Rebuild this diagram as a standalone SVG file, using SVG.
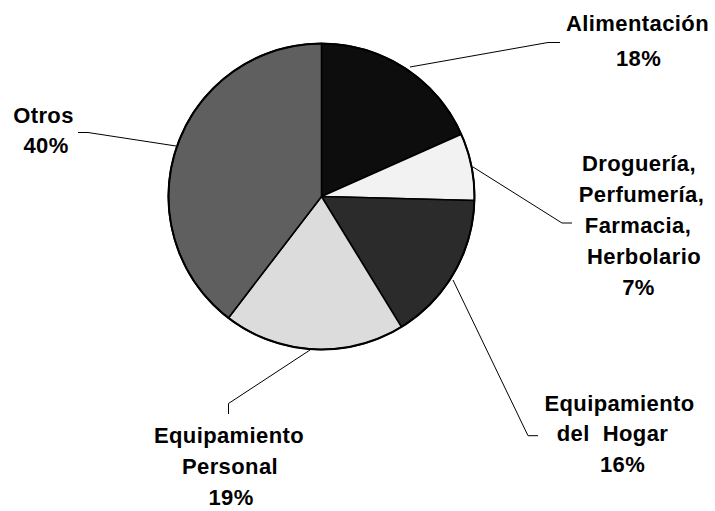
<svg xmlns="http://www.w3.org/2000/svg" width="715" height="511" viewBox="0 0 715 511">
<style>
.lbl{font-family:"Liberation Sans",Arial,sans-serif;font-weight:bold;font-size:22px;letter-spacing:0.4px;fill:#000;text-anchor:middle}
.slice{stroke:#000;stroke-width:1.6;stroke-linejoin:round}
.lead{fill:none;stroke:#000;stroke-width:1}
</style>
<rect width="715" height="511" fill="#fff"/>
<g id="pie">
<g id="slice-alimentacion"><path class="slice" fill="#0d0d0d" d="M321.5,196.5 L321.5,43.5 A153,153 0 0 1 461.3,134.3 Z"/></g>
<g id="slice-drogueria"><path class="slice" fill="#f2f2f2" d="M321.5,196.5 L461.3,134.3 A153,153 0 0 1 474.4,200.5 Z"/></g>
<g id="slice-hogar"><path class="slice" fill="#2b2b2b" d="M321.5,196.5 L474.4,200.5 A153,153 0 0 1 401.4,326.9 Z"/></g>
<g id="slice-personal"><path class="slice" fill="#dcdcdc" d="M321.5,196.5 L401.4,326.9 A153,153 0 0 1 228.4,317.9 Z"/></g>
<g id="slice-otros"><path class="slice" fill="#5f5f5f" d="M321.5,196.5 L228.4,317.9 A153,153 0 0 1 321.5,43.5 Z"/></g>
<circle cx="321.5" cy="196.5" r="153" fill="none" stroke="#000" stroke-width="2"/>
</g>
<g id="connectors">
<polyline class="lead" points="410,67 548,42.5 560,42.5"/>
<polyline class="lead" points="473,167 562,223 572,223"/>
<polyline class="lead" points="453,280 528,435.7 538,435.7"/>
<polyline class="lead" points="310,350 228.5,403.5 228.5,414"/>
<polyline class="lead" points="78,132.5 88,132.5 176,146"/>
</g>
<g id="label-alimentacion">
<text class="lbl" x="637.5" y="31">Alimentación</text>
<text class="lbl" x="638.5" y="66">18%</text>
</g>
<g id="label-drogueria">
<text class="lbl" x="639" y="171">Droguería,</text>
<text class="lbl" x="641.5" y="202">Perfumería,</text>
<text class="lbl" x="638" y="233">Farmacia,</text>
<text class="lbl" x="644" y="264">Herbolario</text>
<text class="lbl" x="638.5" y="295">7%</text>
</g>
<g id="label-hogar">
<text class="lbl" x="619.5" y="410.5">Equipamiento</text>
<text class="lbl" x="612.5" y="441" xml:space="preserve">del  Hogar</text>
<text class="lbl" x="622.5" y="471.5">16%</text>
</g>
<g id="label-personal">
<text class="lbl" x="229" y="442.5">Equipamiento</text>
<text class="lbl" x="230" y="473.5">Personal</text>
<text class="lbl" x="231" y="504.5">19%</text>
</g>
<g id="label-otros">
<text class="lbl" x="43.5" y="123">Otros</text>
<text class="lbl" x="46" y="153">40%</text>
</g>
</svg>
